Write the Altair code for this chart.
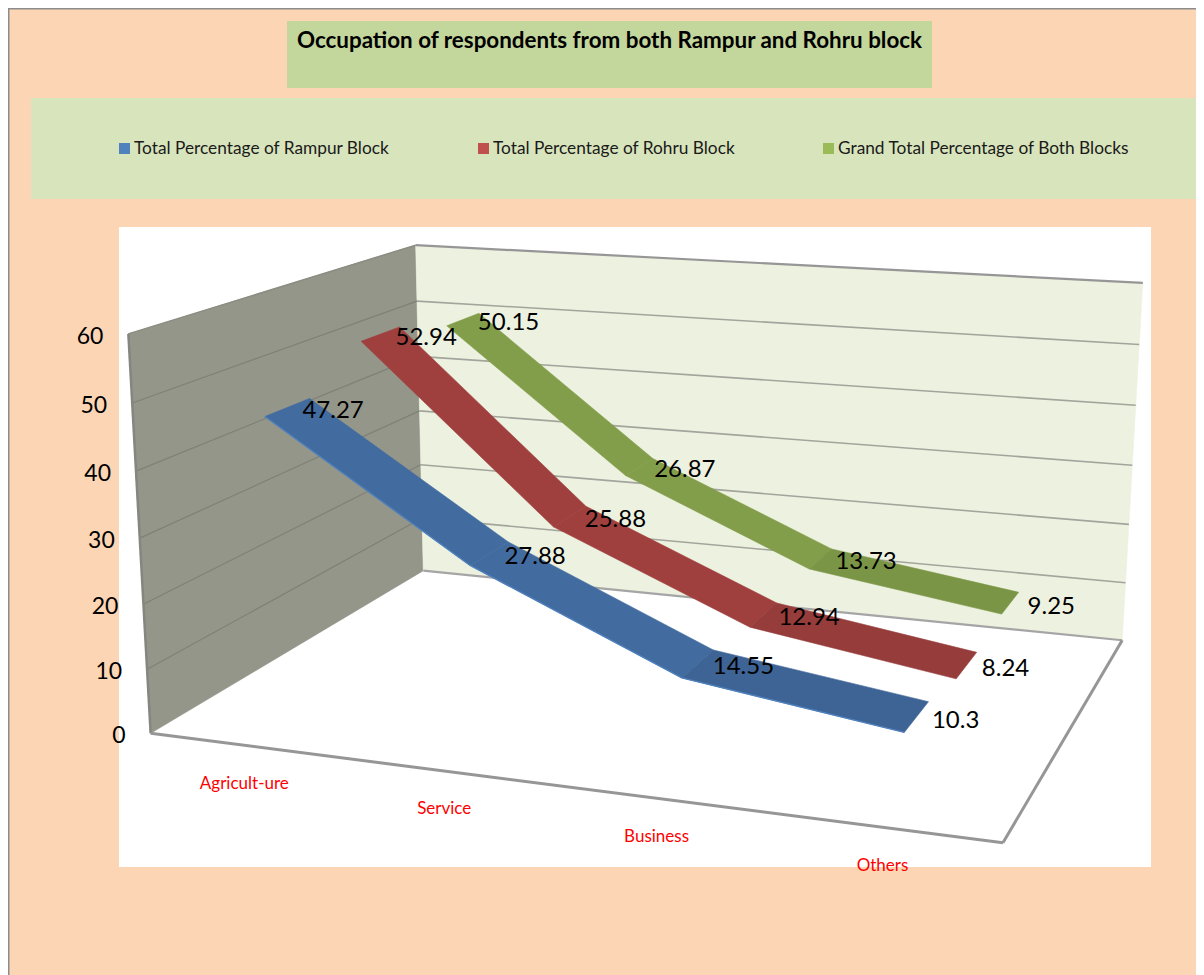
import numpy as np
import pandas as pd
import altair as alt

# ---- data
categories = ["Agricult-ure", "Service", "Business", "Others"]
series_names = ["Total Percentage of Rampur Block", "Total Percentage of Rohru Block", "Grand Total Percentage of Both Blocks"]
rampur = [47.27, 27.88, 14.55, 10.3]
rohru = [52.94, 25.88, 12.94, 8.24]
grand = [50.15, 26.87, 13.73, 9.25]
axis_ticks = [0, 10, 20, 30, 40, 50, 60]
title_text = "Occupation of respondents from both Rampur and Rohru block"

# ---- styles
PEACH = "#fcd5b5"
TITLE_BG = "#c3d69b"
LEGEND_BG = "#d8e4bc"
LEFT_WALL = "#94968a"
BACK_WALL = "#edf1e0"
EDGE = "#969696"
FONT = "Lato"
legend_colors = ["#4f81bd", "#c0504d", "#9bbb59"]
ribbon_colors = [["#426b9f", "#426b9f", "#3e6496"], ["#9f403e", "#9f403e", "#963c3b"], ["#829e4a", "#829e4a", "#7a9545"]]
depths = [(0.10, 0.245), (0.43, 0.575), (0.765, 0.905)]
cat_pos = [0.125, 0.375, 0.625, 0.875]

# ---- 3D camera: box corners (category pos, depth, value) -> page pixels
box = [(0,0,0),(0,0,60),(0,1,0),(0,1,60),(1,1,60),(1,1,0),(1,0,0)]
pix = [(150,733),(129,334),(424,571),(415,245),(1143,283),(1122,640),(1003,843)]
rows = []
for (a,b,c),(px,py) in zip(box,pix):
    c = c/60
    rows.append([a,b,c,1,0,0,0,0,-px*a,-px*b,-px*c,-px])
    rows.append([0,0,0,0,a,b,c,1,-py*a,-py*b,-py*c,-py])
_,_,vt = np.linalg.svd(np.array(rows,float))
P = vt[-1].reshape(3,4)

def proj(u,d,v):
    h = P @ np.array([u,d,v/60,1.0])
    return [float(h[0]/h[2]), float(h[1]/h[2])]

W, H = 1188, 967
X = alt.X("x:Q", scale=alt.Scale(domain=[8, 8+W], range=[0, W], nice=False, zero=False), axis=None)
Y = alt.Y("y:Q", scale=alt.Scale(domain=[8, 8+H], range=[0, H], nice=False, zero=False), axis=None)

def poly(points, color):
    ring = [list(p) for p in points] + [list(points[0])]
    return {"type":"Feature","geometry":{"type":"Polygon","coordinates":[ring]},"properties":{"color":color}}

def shapes(features):
    return (alt.Chart(alt.Data(values=features))
            .mark_geoshape(strokeWidth=0.6)
            .encode(fill=alt.Fill("properties.color:N", scale=None),
                    stroke=alt.Stroke("properties.color:N", scale=None))
            .project(type="identity", scale=1, translate=[-8, -8]))

# panels
panels = pd.DataFrame([
    dict(x=119, x2=1151, y=227, y2=867, c="#ffffff"),
    dict(x=287, x2=932, y=21, y2=88, c=TITLE_BG),
    dict(x=31, x2=1196, y=98, y2=199, c=LEGEND_BG),
])
panel_layer = alt.Chart(panels).mark_rect().encode(X, alt.X2("x2"), Y, alt.Y2("y2"),
                                                   color=alt.Color("c:N", scale=None))

# page border
border = pd.DataFrame([dict(x=8, y=8, g="l"), dict(x=8, y=975, g="l"), dict(x=8, y=8, g="t"), dict(x=1196, y=8, g="t")])
border_layer = alt.Chart(border).mark_line(color="#8c8c8c", strokeWidth=3).encode(X, Y, detail="g:N")

# walls
walls = shapes([
    poly([proj(0,0,0), proj(0,0,60), proj(0,1,60), proj(0,1,0)], LEFT_WALL),
    poly([proj(0,1,0), proj(0,1,60), proj(1,1,60), proj(1,1,0)], BACK_WALL),
])

def seg_frame(segs):
    rows = []
    for i, (a, b) in enumerate(segs):
        rows.append(dict(x=a[0], y=a[1], g=i, o=0))
        rows.append(dict(x=b[0], y=b[1], g=i, o=1))
    return pd.DataFrame(rows)

def lines(segs, color, width):
    return alt.Chart(seg_frame(segs)).mark_line(color=color, strokeWidth=width).encode(X, Y, detail="g:N", order="o:Q")

grid_left = lines([(proj(0,0,t), proj(0,1,t)) for t in axis_ticks[1:-1]], "#7f8177", 1.2)
grid_back = lines([(proj(0,1,t), proj(1,1,t)) for t in axis_ticks[1:-1]], "#a3a59c", 1.6)
wall_edges = lines([(proj(0,0,0), proj(0,0,60))], "#85867f", 2.5)
top_edges = lines([(proj(0,0,60), proj(0,1,60))], "#8b8d82", 1.5)
top_back = lines([(proj(0,1,60), proj(1,1,60))], EDGE, 2.2)
floor_back = lines([(proj(0,1,0), proj(1,1,0))], "#a5a5a5", 2.2)
floor_edges = lines([(proj(0,0,0), proj(1,0,0)), (proj(1,0,0), proj(1,1,0))], EDGE, 3)

# ribbons, back to front
features = []
for idx in (2, 1, 0):
    vals = [rampur, rohru, grand][idx]
    d0, d1 = depths[idx]
    for s in range(3):
        features.append(poly([proj(cat_pos[s], d0, vals[s]), proj(cat_pos[s], d1, vals[s]),
                              proj(cat_pos[s+1], d1, vals[s+1]), proj(cat_pos[s+1], d0, vals[s+1])],
                             ribbon_colors[idx][s]))
ribbons = shapes(features)
blue_edge = lines([(proj(cat_pos[s], depths[0][0], rampur[s]), proj(cat_pos[s+1], depths[0][0], rampur[s+1])) for s in range(3)],
                  legend_colors[0], 1.4)

# axis labels, placed from the same camera
tick_df = pd.DataFrame([dict(x=proj(0,0,t)[0]-25, y=proj(0,0,t)[1]+3, t=str(t)) for t in axis_ticks])
tick_layer = alt.Chart(tick_df).mark_text(font=FONT, fontSize=23, align="right", baseline="middle", color="#000000").encode(X, Y, text="t:N")

# category labels
cat_df = pd.DataFrame([dict(x=proj(u,0,0)[0]-2, y=proj(u,0,0)[1]+38, t=c) for u, c in zip(cat_pos, categories)])
cat_layer = alt.Chart(cat_df).mark_text(font=FONT, fontSize=17, align="center", baseline="middle", color="#ff0000").encode(X, Y, text="t:N")

# data labels
last_dx = [39, 39, 41]
lab_rows = []
for idx, vals in enumerate([rampur, rohru, grand]):
    d0, d1 = depths[idx]
    for i, v in enumerate(vals):
        px, py = proj(cat_pos[i], (d0+d1)/2, v)
        if i < 3:
            lab_rows.append(dict(x=px+45.5, y=py+3.5, t=str(v)))
        else:
            lab_rows.append(dict(x=px+last_dx[idx], y=py+4, t=str(v)))
lab_layer = alt.Chart(pd.DataFrame(lab_rows)).mark_text(font=FONT, fontSize=24, align="center", baseline="middle", color="#000000").encode(X, Y, text="t:N")

# title
title_df = pd.DataFrame([dict(x=609.5, y=41, t=title_text)])
title_layer = alt.Chart(title_df).mark_text(font=FONT, fontSize=22.4, fontWeight="bold", align="center", baseline="middle", color="#000000").encode(X, Y, text="t:N")

# legend
leg_x = [119, 478, 823]
leg_sw = pd.DataFrame([dict(x=a, x2=a+11, y=143, y2=154, c=c) for a, c in zip(leg_x, legend_colors)])
leg_sw_layer = alt.Chart(leg_sw).mark_rect().encode(X, alt.X2("x2"), Y, alt.Y2("y2"), color=alt.Color("c:N", scale=None))
leg_tx = pd.DataFrame([dict(x=a+15, y=149, t=n) for a, n in zip(leg_x, series_names)])
leg_tx_layer = alt.Chart(leg_tx).mark_text(font=FONT, fontSize=17.3, align="left", baseline="middle", color="#1a1a1a").encode(X, Y, text="t:N")

chart = alt.layer(
    panel_layer, border_layer, walls, grid_left, grid_back, top_edges, top_back, wall_edges,
    floor_back, floor_edges, ribbons, blue_edge, tick_layer, cat_layer, lab_layer, title_layer, leg_sw_layer, leg_tx_layer
).properties(width=W, height=H, background=PEACH, padding=0, autosize=alt.AutoSizeParams(type="none")
).configure_view(stroke=None)

chart.save("out.html", embed_options={"renderer": "svg", "actions": False})
